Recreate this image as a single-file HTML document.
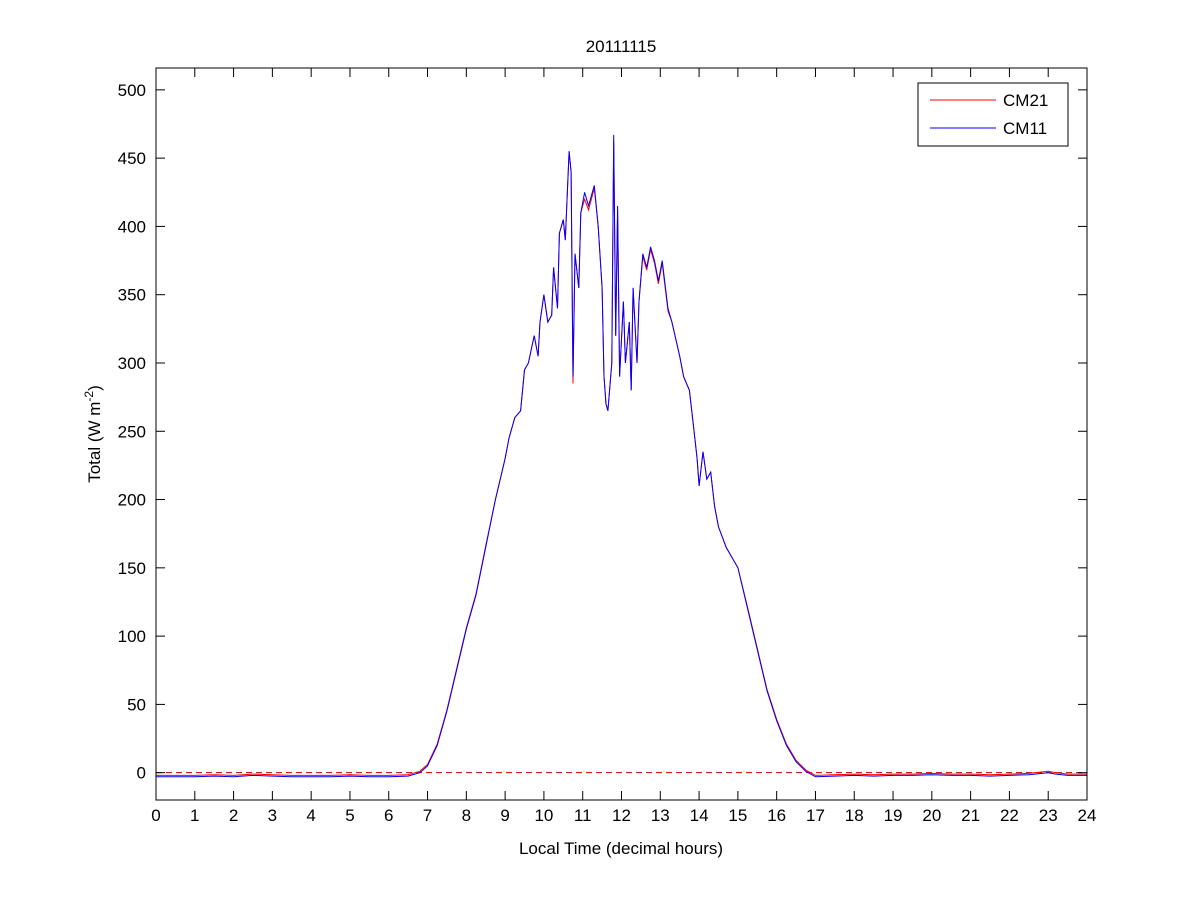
<!DOCTYPE html>
<html><head><meta charset="utf-8"><style>
html,body{margin:0;padding:0;background:#fff;}
svg{display:block;font-family:"Liberation Sans",Arial,sans-serif;}
</style></head><body>
<svg id="chart" width="1201" height="900" viewBox="0 0 1201 900">
<rect x="0" y="0" width="1201" height="900" fill="#fff"/>
<g id="plot"></g>
</svg>
<script>
const hours=[0,0.5,1,1.5,2,2.5,3,3.5,4,4.5,5,5.5,6,6.5,6.8,7.0,7.25,7.5,7.75,8.0,8.25,8.5,8.75,9.0,9.1,9.25,9.4,9.5,9.6,9.75,9.85,9.9,10.0,10.1,10.2,10.25,10.35,10.4,10.5,10.55,10.65,10.7,10.75,10.8,10.9,10.95,11.05,11.15,11.3,11.4,11.5,11.55,11.6,11.65,11.75,11.8,11.85,11.9,11.95,12.05,12.1,12.2,12.25,12.3,12.4,12.45,12.55,12.65,12.75,12.85,12.95,13.05,13.2,13.3,13.5,13.6,13.75,13.85,13.95,14.0,14.1,14.2,14.3,14.4,14.5,14.7,15.0,15.25,15.5,15.75,16.0,16.25,16.5,16.75,17.0,17.5,18,18.5,19,19.5,20,20.5,21,21.5,22,22.5,23,23.2,23.5,24];
const cm11=[-3,-3,-3,-2.5,-3,-2,-2.5,-3,-3,-3,-2.5,-3,-3,-2.5,0,5,20,45,75,105,130,165,200,230,245,260,265,295,300,320,305,330,350,330,335,370,340,395,405,390,455,440,290,380,355,410,425,415,430,400,355,290,270,265,300,467,320,415,290,345,300,330,280,355,300,345,380,370,385,375,360,375,340,330,305,290,280,255,230,210,235,215,220,195,180,165,150,120,90,60,38,20,8,1,-3,-2.5,-2,-2.5,-2,-2,-1.5,-2,-2,-2.5,-2,-1.5,0,-1,-2,-2];
const cm21=[-2,-2,-2,-1.5,-2,-1,-1.5,-2,-2,-2,-1.5,-2,-2,-1.5,1,6,21,46,76,106,131,166,200,230,245,260,265,295,300,320,305,330,350,330,335,370,340,395,405,390,455,440,285,380,355,410,420,412,428,400,355,290,270,265,300,462,320,412,290,345,300,330,280,355,300,345,378,368,383,373,358,373,338,330,305,290,280,255,230,210,235,215,220,195,180,165,150,121,91,61,39,21,9,2,-2,-1.5,-1,-1.5,-1,-1,-0.5,-1,-1,-1.5,-1,-0.5,1,0,-1,-1];
const xTicks=[0,1,2,3,4,5,6,7,8,9,10,11,12,13,14,15,16,17,18,19,20,21,22,23,24];
const yTicks=[0,50,100,150,200,250,300,350,400,450,500];
const X0=156,X1=1087,Y0=68,Y1=800,YMIN=-20,YMAX=516;
const sx=h=>X0+(h-0)/24*(X1-X0);
const sy=v=>Y1-(v-YMIN)/(YMAX-YMIN)*(Y1-Y0);
const NS="http://www.w3.org/2000/svg";
const g=document.getElementById('plot');
function mk(t,a,txt){const e=document.createElementNS(NS,t);for(const k in a)e.setAttribute(k,a[k]);if(txt!==undefined)e.textContent=txt;g.appendChild(e);return e;}
// zero line
let z=mk('line',{x1:X0,x2:X1,y1:sy(0),y2:sy(0),stroke:'#c00000','stroke-dasharray':'6,4','stroke-width':1});


function series(vals,col,name){
 let d=vals.map((v,i)=>(i?'L':'M')+sx(hours[i]).toFixed(1)+' '+sy(v).toFixed(1)).join(' ');
 let p=mk('path',{d:d,fill:'none',stroke:col,'stroke-width':1});
 
 
}
series(cm21,'#ff0000','cm21-line');
series(cm11,'#0000ff','cm11-line');
// axes box
let box=mk('rect',{x:X0,y:Y0,width:X1-X0,height:Y1-Y0,fill:'none',stroke:'#000','stroke-width':1});


xTicks.forEach(t=>{
 const x=sx(t);
 mk('line',{x1:x,x2:x,y1:Y1,y2:Y1-9,stroke:'#000'});
 mk('line',{x1:x,x2:x,y1:Y0,y2:Y0+9,stroke:'#000'});
 let l=mk('text',{x:x,y:Y1+21,'text-anchor':'middle','font-size':17},String(t));
 
 
});
yTicks.forEach(t=>{
 const y=sy(t);
 mk('line',{x1:X0,x2:X0+9,y1:y,y2:y,stroke:'#000'});
 mk('line',{x1:X1,x2:X1-9,y1:y,y2:y,stroke:'#000'});
 let l=mk('text',{x:X0-10,y:y+6,'text-anchor':'end','font-size':17},String(t));
 
 
});
let tt=mk('text',{x:621,y:52,'text-anchor':'middle','font-size':17},'20111115');


let xt=mk('text',{x:621,y:854,'text-anchor':'middle','font-size':17},'Local Time (decimal hours)');


let yt=mk('text',{x:0,y:0,'text-anchor':'middle','font-size':17,transform:'translate(100,434) rotate(-90)'});
yt.innerHTML='Total (W m<tspan dy="-7" font-size="12">-2</tspan><tspan dy="7">)</tspan>';


// legend
let lg=mk('rect',{x:918,y:83,width:150,height:63,fill:'#fff',stroke:'#000'});


let l1=mk('line',{x1:930,x2:996,y1:100,y2:100,stroke:'#ff0000'});


let t1=mk('text',{x:1003,y:106,'font-size':17},'CM21');


let l2=mk('line',{x1:930,x2:996,y1:128,y2:128,stroke:'#0000ff'});


let t2=mk('text',{x:1003,y:134,'font-size':17},'CM11');


</script>
</body></html>
